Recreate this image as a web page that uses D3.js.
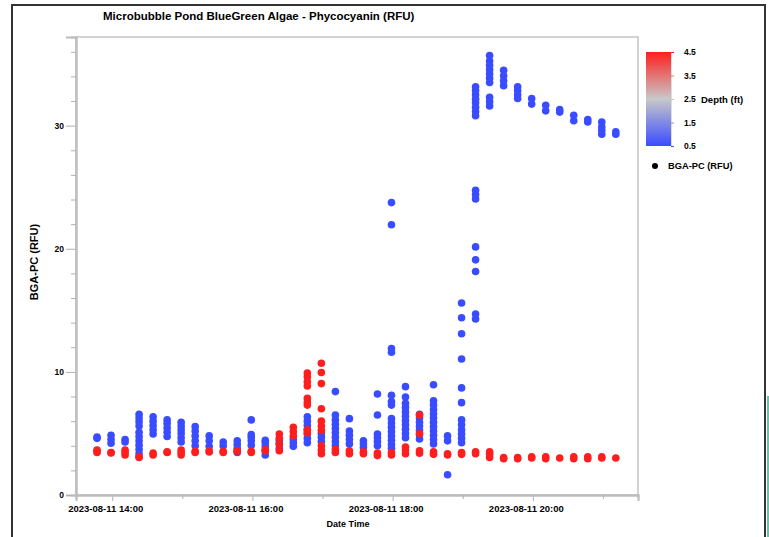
<!doctype html>
<html>
<head>
<meta charset="utf-8"/>
<title>Microbubble Pond BlueGreen Algae - Phycocyanin (RFU)</title>
<script src="https://d3js.org/d3.v7.min.js"></script>
<style>
 body { margin:0; background:#fff; }
 text { font-family: "Liberation Sans", Arial, sans-serif; }
</style>
</head>
<body>
<script>
// sample times (2023-08-11), one profile every ~12 min
var sampleTimes = ["13:47","13:59","14:11","14:23","14:35","14:47","14:59","15:11","15:23","15:35",
  "15:47","15:59","16:11","16:23","16:35","16:47","16:59","17:11","17:23","17:35",
  "17:47","17:59","18:11","18:23","18:35","18:47","18:59","19:11","19:23","19:35",
  "19:47","19:59","20:11","20:23","20:35","20:47","20:59","21:11"];

// BGA-PC readings near the surface (depth 0.5 ft)
var shallowBGA = [
  [4.6, 4.7],
  [4.2, 4.5, 4.85],
  [4.3, 4.5],
  [3.35, 3.7, 4.05, 4.4, 4.75, 5.1, 5.6, 5.95, 6.25, 6.55],
  [4.95, 5.3, 5.65, 6.0, 6.35],
  [4.75, 5.1, 5.45, 5.8, 6.1],
  [4.3, 4.65, 5.0, 5.3, 5.6, 5.9],
  [4.0, 4.4, 4.8, 5.2, 5.55],
  [3.95, 4.4, 4.8],
  [4.0, 4.3],
  [3.45, 3.8, 4.1, 4.4],
  [4.05, 4.4, 4.7, 4.9, 6.1],
  [3.25, 3.6, 3.95, 4.25, 4.45],
  [3.8, 4.2, 4.45],
  [3.95, 4.25, 4.55],
  [4.25, 4.6, 4.95, 5.3, 5.65, 6.0, 6.35],
  [4.35, 4.7, 5.0],
  [4.0, 4.35, 4.7, 5.05, 5.4, 5.75, 6.1, 6.5, 8.4],
  [4.15, 4.5, 4.85, 5.2, 6.2],
  [3.85, 4.15, 4.4],
  [4.0, 4.35, 4.65, 4.95, 6.5, 8.2],
  [3.8, 4.1, 4.45, 4.8, 5.15, 5.5, 5.85, 6.2, 7.3, 7.6, 8.1, 11.6, 11.9, 21.95, 23.75],
  [4.65, 5.0, 5.35, 5.7, 6.05, 6.4, 6.75, 7.1, 7.45, 7.95, 8.8],
  [4.55, 4.9, 5.25, 5.6, 5.9, 6.25, 6.55],
  [4.15, 4.5, 4.85, 5.2, 5.55, 5.9, 6.25, 6.6, 6.95, 7.3, 7.65, 8.95],
  [1.65, 4.4, 4.8],
  [4.25, 4.6, 4.95, 5.3, 5.7, 6.1, 7.5, 8.7, 11.05, 13.1, 14.4, 15.6],
  [14.3, 14.7, 18.15, 19.1, 20.15, 24.05, 24.4, 24.75, 30.8, 31.15, 31.5, 31.85, 32.15, 32.5, 32.85, 33.15],
  [31.6, 31.95, 32.3, 33.5, 33.85, 34.2, 34.55, 34.9, 35.25, 35.7],
  [33.25, 33.65, 34.05, 34.5],
  [32.2, 32.5, 32.85, 33.15],
  [31.75, 32.2],
  [31.2, 31.65],
  [31.1, 31.3],
  [30.4, 30.85],
  [30.3, 30.5],
  [29.3, 29.6, 29.9, 30.3],
  [29.3, 29.5]
];

// BGA-PC readings near the bottom (depth 4.5 ft)
var deepBGA = [
  [3.45, 3.55, 3.65],
  [3.42, 3.45],
  [3.25, 3.45, 3.65],
  [3.05, 3.1],
  [3.25, 3.4],
  [3.45, 3.5],
  [3.25, 3.45, 3.65],
  [3.45, 3.55],
  [3.5, 3.6],
  [3.45, 3.55],
  [3.55, 3.6],
  [3.45, 3.55],
  [3.6, 3.7],
  [3.6, 4.1, 4.6, 4.95],
  [4.8, 5.15, 5.5],
  [5.05, 5.3, 7.3, 7.55, 7.85, 8.85, 9.2, 9.6, 9.9],
  [3.35, 3.65, 4.0, 5.25, 5.6, 6.0, 7.0, 9.05, 9.95, 10.7],
  [3.45, 3.7],
  [3.35, 3.6],
  [3.35, 3.5],
  [3.2, 3.4],
  [3.25, 3.45],
  [3.35, 3.65, 3.9],
  [3.4, 3.6, 5.0, 6.5],
  [3.3, 3.5],
  [3.25, 3.35],
  [3.3, 3.45],
  [3.35, 3.5],
  [3.05, 3.3, 3.5],
  [2.95, 3.05],
  [2.95, 3.05],
  [3.0, 3.1],
  [2.95, 3.1],
  [3.0],
  [2.95, 3.1],
  [2.95, 3.1],
  [3.0, 3.1],
  [3.0]
];

var depthTicks = [0.5, 1.5, 2.5, 3.5, 4.5];
var yTicks = [0, 10, 20, 30];

var W = 769, H = 537;
var svg = d3.select("body").append("svg").attr("width", W).attr("height", H);

var parseT = d3.timeParse("%Y-%m-%d %H:%M");
var plotL = 76, plotR = 638, plotT = 37, plotB = 495;

var x = d3.scaleTime()
  .domain([parseT("2023-08-11 13:29"), parseT("2023-08-11 21:30")])
  .range([plotL, plotR]);
var y = d3.scaleLinear().domain([0, 37.2]).range([plotB, plotT]);
var col = d3.scaleLinear().domain([0.5, 2.5, 4.5]).range(["#3a4cff", "#c8c8c8", "#ff1e1e"]);

// outer frame
svg.append("rect").attr("x", 12).attr("y", 5).attr("width", 753).attr("height", 540)
  .attr("fill", "none").attr("stroke", "#333").attr("stroke-width", 2);
svg.append("rect").attr("x", 767).attr("y", 396).attr("width", 2).attr("height", 141).attr("fill", "#6cc0a8");

svg.append("text").attr("x", 103).attr("y", 20)
  .attr("font-size", 11.5).attr("font-weight", "bold").text("Microbubble Pond BlueGreen Algae - Phycocyanin (RFU)");

// plot frame
svg.append("rect").attr("x", plotL).attr("y", plotT).attr("width", plotR - plotL).attr("height", plotB - plotT)
  .attr("fill", "none").attr("stroke", "#c4c4c4").attr("stroke-width", 1.5);

// y axis
svg.append("g").attr("transform", "translate(" + plotL + ",0)")
  .call(d3.axisLeft(y).tickValues(yTicks).tickSize(10).tickPadding(2));
svg.append("g").attr("transform", "translate(" + plotL + ",0)")
  .call(d3.axisLeft(y).tickValues(d3.range(0, 37, 2).filter(function(d){ return d % 10 != 0; })).tickSize(5).tickFormat(""));

// x axis
var hours = d3.timeHour.every(1).range(x.domain()[0], x.domain()[1]);
var xg = svg.append("g").attr("transform", "translate(0," + plotB + ")")
  .call(d3.axisBottom(x).tickValues(hours.filter(function(d){ return d.getHours() % 2 == 0; }))
    .tickSize(6).tickPadding(4).tickFormat(d3.timeFormat("%Y-%m-%d %H:%M")));
svg.append("g").attr("transform", "translate(0," + plotB + ")")
  .call(d3.axisBottom(x).tickValues(hours.filter(function(d){ return d.getHours() % 2 == 1; })).tickSize(4).tickFormat(""));

svg.selectAll(".domain").attr("stroke", "#bdbdbd").attr("stroke-width", 2);
svg.selectAll(".tick line").attr("stroke", "#b0b0b0");
svg.selectAll(".tick text").attr("font-size", 8.5).attr("font-weight", "bold").attr("fill", "#000")
  .attr("font-family", "'Liberation Sans', Arial, sans-serif");
xg.selectAll(".tick text").attr("font-size", 9.5).attr("dx", -7);

svg.append("text").attr("x", 348).attr("y", 527).attr("text-anchor", "middle")
  .attr("font-size", 9).attr("font-weight", "bold").text("Date Time");
svg.append("text").attr("transform", "translate(38,262) rotate(-90)").attr("text-anchor", "middle")
  .attr("font-size", 11).attr("font-weight", "bold").text("BGA-PC (RFU)");

// points
var pts = [];
sampleTimes.forEach(function(t, i) {
  shallowBGA[i].forEach(function(v){ pts.push({t: parseT("2023-08-11 " + t), v: v, depth: 0.5}); });
});
sampleTimes.forEach(function(t, i) {
  deepBGA[i].forEach(function(v){ pts.push({t: parseT("2023-08-11 " + t), v: v, depth: 4.5}); });
});

svg.append("g").selectAll("circle").data(pts).enter().append("circle")
  .attr("cx", function(d){ return x(d.t); })
  .attr("cy", function(d){ return y(d.v); })
  .attr("r", 3.8)
  .attr("fill", function(d){ return col(d.depth); });

// legend
var defs = svg.append("defs");
var grad = defs.append("linearGradient").attr("id", "depthGrad")
  .attr("x1", 0).attr("y1", 1).attr("x2", 0).attr("y2", 0);
[0.5, 2.5, 4.5].forEach(function(d){
  grad.append("stop").attr("offset", (d - 0.5) / 4).attr("stop-color", col(d));
});
var ly = d3.scaleLinear().domain([0.5, 4.5]).range([146, 52]);
svg.append("rect").attr("x", 646).attr("y", 52).attr("width", 25).attr("height", 94).attr("fill", "url(#depthGrad)");
var lg = svg.append("g").attr("transform", "translate(671,0)")
  .call(d3.axisRight(ly).tickValues(depthTicks).tickSize(3).tickPadding(10).tickFormat(d3.format(".1f")));
lg.select(".domain").attr("stroke", "#ddd").attr("stroke-width", 1);
lg.selectAll(".tick line").attr("stroke", function(d){ return col(d); });
lg.selectAll(".tick text").attr("font-size", 8.5).attr("font-weight", "bold").attr("fill", "#000");
svg.append("text").attr("x", 701).attr("y", 103).attr("font-size", 9.5).attr("font-weight", "bold").text("Depth (ft)");

svg.append("circle").attr("cx", 655).attr("cy", 166).attr("r", 3).attr("fill", "#000");
svg.append("text").attr("x", 668).attr("y", 169).attr("font-size", 9.3).attr("font-weight", "bold").text("BGA-PC (RFU)");
</script>
</body>
</html>
